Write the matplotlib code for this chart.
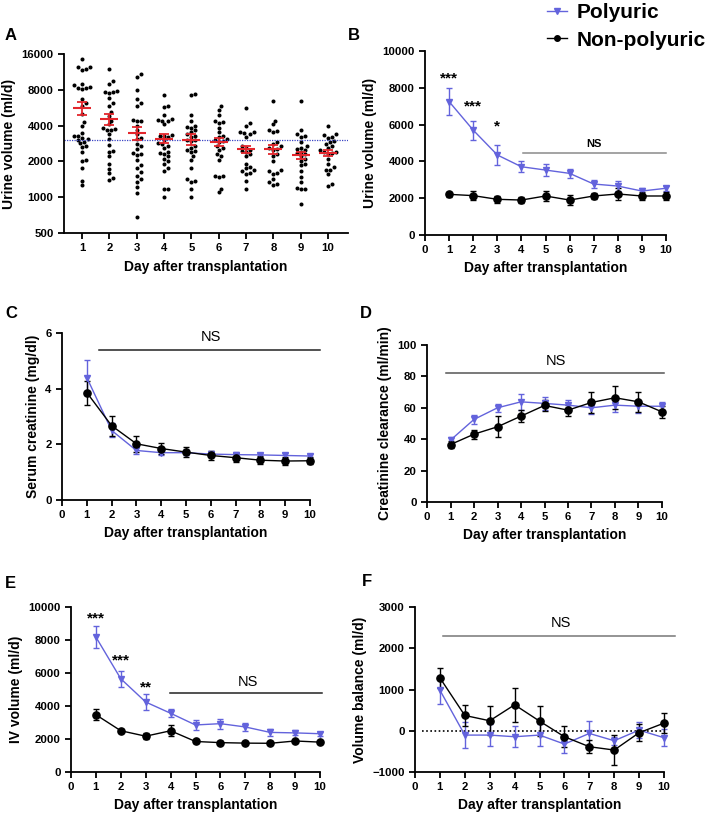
import numpy as np
import matplotlib.pyplot as plt
from matplotlib.lines import Line2D

plt.rcParams['font.family'] = ['Liberation Sans', 'DejaVu Sans']
plt.rcParams['font.weight'] = 'bold'
plt.rcParams['axes.labelweight'] = 'bold'
plt.rcParams['axes.linewidth'] = 1.3
plt.rcParams['xtick.major.width'] = 1.3
plt.rcParams['ytick.major.width'] = 1.3
plt.rcParams['xtick.major.size'] = 4
plt.rcParams['ytick.major.size'] = 4
plt.rcParams['xtick.labelsize'] = 8.2
plt.rcParams['ytick.labelsize'] = 8.2

BLUE = '#6363dc'
RED = '#e3262c'
LABEL_FS = 10

days = np.arange(1, 11)

# panel A: individual urine volumes (ml/d)
a_day1 = [14500, 12400, 12000, 12500, 11800, 9000, 8700, 8300, 8300, 8200, 8400, 6700, 6200,
          5800, 5050, 4300, 4000, 3480, 3300, 3250, 3100, 3050, 3150, 2900, 2850, 2700, 2650,
          2400, 2040, 2000, 1750, 1380, 1270]
a_day2 = [12000, 9400, 9000, 7600, 7700, 7500, 7800, 6800, 6200, 5900, 5200, 4850, 4400, 4100,
          3800, 3700, 3750, 3650, 3400, 3100, 2770, 2400, 2450, 2200, 1900, 1740, 1600, 1390, 1450]
a_day3 = [10900, 10300, 7900, 6700, 6200, 5800, 4400, 4450, 4350, 4000, 3700, 3400, 3100, 3150,
          2800, 2700, 2550, 2300, 2350, 2250, 2050, 1850, 1750, 1620, 1520, 1420, 1340, 1230,
          1080, 680]
a_day4 = [7200, 5800, 5700, 4900, 4550, 4400, 4450, 4350, 4100, 3300, 3200, 3250, 3350, 3000,
          2800, 2850, 2600, 2400, 2300, 2350, 2000, 1750, 1650, 1180, 1170, 1000, 2200, 2100,
          1900, 2700]
a_day5 = [7400, 7200, 4900, 4400, 4000, 3850, 3900, 3700, 3400, 3500, 3200, 3000, 3050, 2950,
          2700, 2500, 2400, 2450, 2200, 2050, 1750, 1420, 1380, 1340, 1180, 1000, 2600, 3300]
a_day6 = [5800, 5400, 4900, 4400, 4200, 4300, 3850, 3540, 3300, 3100, 2900, 3000, 2950, 2600,
          2300, 2200, 2050, 1520, 1480, 1500, 1180, 1100, 3200, 2700, 2500]
a_day7 = [5600, 4200, 4000, 3550, 3400, 3500, 3450, 3200, 2700, 2500, 2400, 2450, 2200, 1900,
          1780, 1680, 1570, 1750, 1650, 1600, 1380, 1180, 2600, 2300]
a_day8 = [6500, 4400, 4100, 3700, 3550, 3600, 2900, 2700, 2550, 2500, 2600, 2300, 2000, 1680,
          1570, 1650, 1600, 1420, 1340, 1270, 1300, 2800, 2200]
a_day9 = [6500, 3700, 3400, 3300, 3200, 2900, 2700, 2550, 2600, 2400, 2300, 2350, 2100, 2000,
          1850, 1900, 1650, 1480, 1340, 1180, 1170, 1200, 880, 2500, 2200]
a_day10 = [4000, 3400, 3350, 3200, 3150, 2900, 2950, 2700, 2600, 2400, 2350, 2380, 2320, 2100,
           1900, 1780, 1680, 1700, 1570, 1280, 1250, 2500, 2800]
a_all = [a_day1, a_day2, a_day3, a_day4, a_day5, a_day6, a_day7, a_day8, a_day9, a_day10]
a_mean = [5600, 4520, 3480, 3100, 3050, 2930, 2530, 2530, 2250, 2370]
a_sem = [680, 450, 430, 270, 320, 230, 170, 220, 170, 140]
a_cutoff = 3000

# panel B: urine volume
b_poly = [7250, 5700, 4350, 3710, 3530, 3350, 2770, 2660, 2390, 2540]
b_poly_sem = [750, 520, 560, 300, 330, 250, 220, 260, 180, 130]
b_non = [2210, 2140, 1940, 1900, 2120, 1900, 2120, 2230, 2120, 2120]
b_non_sem = [150, 230, 200, 180, 250, 280, 180, 320, 200, 220]

# panel C: serum creatinine
c_poly = [4.40, 2.50, 1.78, 1.70, 1.70, 1.65, 1.63, 1.62, 1.60, 1.58]
c_poly_sem = [0.62, 0.25, 0.12, 0.10, 0.10, 0.10, 0.10, 0.08, 0.08, 0.07]
c_non = [3.86, 2.67, 2.02, 1.85, 1.72, 1.60, 1.52, 1.43, 1.40, 1.41]
c_non_sem = [0.43, 0.36, 0.28, 0.21, 0.19, 0.16, 0.16, 0.15, 0.15, 0.13]

# panel D: creatinine clearance
d_poly = [39.4, 52.6, 60.0, 63.8, 62.8, 61.7, 60.0, 61.7, 61.0, 61.0]
d_poly_sem = [2, 3, 2.5, 5, 4, 3, 4, 4.5, 4, 2.5]
d_non = [36.6, 43.2, 47.9, 54.7, 61.5, 58.5, 63.4, 66.4, 63.8, 57.4]
d_non_sem = [2.5, 2.8, 6.8, 4, 3.5, 3.5, 6.4, 7.4, 6.4, 4]

# panel E: IV volume
e_poly = [8180, 5650, 4240, 3560, 2850, 2930, 2730, 2400, 2370, 2320]
e_poly_sem = [650, 500, 500, 250, 280, 300, 250, 200, 150, 120]
e_non = [3470, 2500, 2170, 2500, 1850, 1780, 1750, 1740, 1880, 1810]
e_non_sem = [320, 100, 180, 320, 80, 70, 60, 70, 80, 70]

# panel F: volume balance
f_poly = [984, -105, -105, -145, -105, -323, -65, -242, 16, -169]
f_poly_sem = [340, 320, 270, 250, 270, 220, 300, 100, 200, 200]
f_non = [1282, 371, 242, 629, 234, -145, -387, -468, -48, 185]
f_non_sem = [250, 250, 355, 410, 360, 260, 160, 370, 200, 250]

W, H = 707, 819
fig = plt.figure(figsize=(W / 100, H / 100), dpi=100)


def px_axes(left, right, top, bottom):
    return fig.add_axes([left / W, 1 - bottom / H, (right - left) / W, (bottom - top) / H])


def clean(ax):
    ax.spines['top'].set_visible(False)
    ax.spines['right'].set_visible(False)


def swarm_offsets(vals, xscale=27.3, yscale=35.7, d=4.0):
    # simple beeswarm: push each dot sideways until it clears the others
    y = np.log2(vals) * yscale
    offs = np.zeros(len(vals))
    placed = []
    cands = [0] + [s * k for k in range(1, 30) for s in (1, -1)]
    for i in np.argsort(y):
        for k in cands:
            x = k * d * 0.5
            if all((x - px) ** 2 + (y[i] - py) ** 2 >= d * d for px, py in placed):
                break
        placed.append((x, y[i]))
        offs[i] = x / xscale
    return offs


def no_clip(container):
    for art in container.get_children():
        art.set_clip_on(False)


def line_panel(ax, poly, poly_sem, non, non_sem, ylim, yticks, ylabel):
    clean(ax)
    hp = ax.errorbar(days, poly, yerr=poly_sem, color=BLUE, marker='v', ms=4.8, lw=1,
                     elinewidth=1, capsize=2.5, capthick=1)
    hn = ax.errorbar(days, non, yerr=non_sem, color='black', marker='o', ms=5.2, lw=1,
                     elinewidth=1, capsize=2.5, capthick=1)
    no_clip(hp)
    no_clip(hn)
    ax.set_xlim(0, 10)
    ax.set_xticks(range(11))
    ax.set_ylim(*ylim)
    ax.set_yticks(yticks)
    ax.set_xlabel('Day after transplantation', fontsize=LABEL_FS)
    ax.set_ylabel(ylabel, fontsize=LABEL_FS)


def ns_bar(ax, x0, x1, y, tx, ty, color, size=10.5, weight='normal'):
    ax.plot([x0, x1], [y, y], color=color, lw=1.1, clip_on=False)
    ax.text(tx, ty, 'NS', ha='center', va='center', fontsize=size, fontweight=weight)


# ---- A
axA = px_axes(64, 348, 54, 233)
clean(axA)
for d, vals in zip(days, a_all):
    axA.plot(d + swarm_offsets(vals), vals, 'o', color='black', ms=2.9, mew=0)
axA.axhline(a_cutoff, color='#3a44c4', lw=0.9, ls=(0, (1, 1)))
axA.hlines(a_mean, days - 0.33, days + 0.33, color=RED, lw=1.5, zorder=4)
axA.errorbar(days, a_mean, yerr=a_sem, fmt='none', ecolor=RED, elinewidth=1.3,
             capsize=3.5, capthick=1.3, zorder=4)
axA.set_yscale('log', base=2)
axA.set_ylim(500, 16000)
a_ticks = [500, 1000, 2000, 4000, 8000, 16000]
axA.set_yticks(a_ticks)
axA.set_yticklabels([str(t) for t in a_ticks])
axA.yaxis.set_minor_locator(plt.NullLocator())
axA.set_xlim(0.34, 10.73)
axA.set_xticks(days)
axA.set_xlabel('Day after transplantation', fontsize=LABEL_FS, labelpad=5)
axA.set_ylabel('Urine volume (ml/d)', fontsize=LABEL_FS)

# ---- B
axB = px_axes(425, 666, 51, 235)
line_panel(axB, b_poly, b_poly_sem, b_non, b_non_sem, (0, 10000), range(0, 10001, 2000),
           'Urine volume (ml/d)')
for x, y, s in [(1, 8480, '***'), (2, 6970, '***'), (3, 5890, '*')]:
    axB.text(x, y, s, ha='center', va='center', fontsize=11)
ns_bar(axB, 4.05, 10, 4470, 7, 4950, '#8a8a8a', size=8, weight='bold')

# ---- C
axC = px_axes(62, 310, 333, 500)
line_panel(axC, c_poly, c_poly_sem, c_non, c_non_sem, (0, 6), [0, 2, 4, 6],
           'Serum creatinine (mg/dl)')
ns_bar(axC, 1.48, 10.4, 5.4, 6.0, 5.85, '#222222')

# ---- D
axD = px_axes(427, 662, 345, 502)
line_panel(axD, d_poly, d_poly_sem, d_non, d_non_sem, (0, 100), range(0, 101, 20),
           'Creatinine clearance (ml/min)')
ns_bar(axD, 0.82, 10.07, 82, 5.5, 90, '#555555')

# ---- E
axE = px_axes(71, 320, 607, 772)
line_panel(axE, e_poly, e_poly_sem, e_non, e_non_sem, (0, 10000), range(0, 10001, 2000),
           'IV volume (ml/d)')
for x, y, s in [(1, 9290, '***'), (2, 6770, '***'), (3, 5150, '**')]:
    axE.text(x, y, s, ha='center', va='center', fontsize=11)
ns_bar(axE, 3.98, 10.07, 4790, 7.1, 5450, '#222222')

# ---- F
axF = px_axes(415, 664, 607, 772)
axF.axhline(0, xmin=0.03, color='black', lw=1.2, ls=(0, (1, 1.5)))
line_panel(axF, f_poly, f_poly_sem, f_non, f_non_sem, (-1000, 3000), range(-1000, 3001, 1000),
           'Volume balance (ml/d)')
ns_bar(axF, 1.11, 10.44, 2300, 5.86, 2610, '#777777')

# panel letters
for lab, x, y in [('A', 5, 35), ('B', 348, 35), ('C', 5, 313), ('D', 360, 313),
                  ('E', 5, 583), ('F', 362, 582)]:
    fig.text(x / W, 1 - y / H, lab, fontsize=12, fontweight='bold', va='center')

# legend
handles = [Line2D([], [], color=BLUE, marker='v', ms=4, lw=1),
           Line2D([], [], color='black', marker='o', ms=4, lw=1)]
fig.legend(handles, ['Polyuric', 'Non-polyuric'], loc='upper left',
           bbox_to_anchor=(547 / W, 1 - 3 / H), frameon=False, borderpad=0, borderaxespad=0,
           handlelength=0.95, handletextpad=0.45, labelspacing=0.42,
           prop={'weight': 'bold', 'size': 15})

fig.savefig('out.png', dpi=100)
